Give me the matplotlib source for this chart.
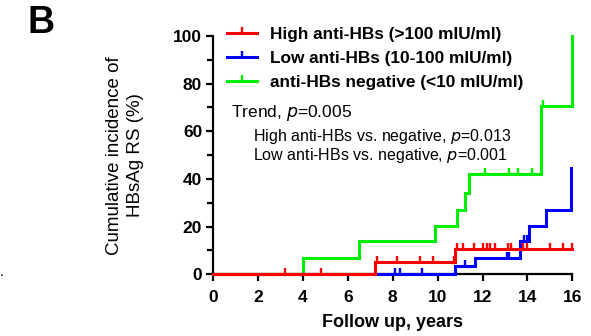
import matplotlib
matplotlib.use("Agg")
import matplotlib.pyplot as plt
from matplotlib.lines import Line2D
from matplotlib.ticker import MultipleLocator

plt.rcParams['font.family'] = ['Liberation Sans', 'DejaVu Sans']

# ---- data ----
labels = ["High anti-HBs (>100 mIU/ml)", "Low anti-HBs (10-100 mIU/ml)", "anti-HBs negative (<10 mIU/ml)"]
colors = ["#ff0000", "#0000ff", "#00ee00"]

red_t = [0, 7.2, 10.77, 16.0]
red_y = [0, 5.0, 10.5, 10.5]
red_cens_t = [3.2, 4.8, 7.3, 8.2, 9.2, 9.8, 10.74, 10.85, 11.14, 11.6, 12.0, 12.2, 12.35,
              12.55, 13.15, 13.25, 13.8, 14.0, 15.0, 15.6, 15.98]
red_cens_y = [0, 0, 5.0, 5.0, 5.0, 5.0, 5.0, 10.5, 10.5, 10.5, 10.5, 10.5, 10.5,
              10.5, 10.5, 10.5, 10.5, 10.5, 10.5, 10.5, 10.5]

blue_t = [0, 10.77, 11.66, 13.67, 14.08, 14.83, 15.95]
blue_y = [0, 3.5, 7.0, 13.8, 20.1, 27.1, 44.4]
blue_cens_t = [8.1, 8.3, 9.3, 11.2, 13.1, 13.2, 13.85, 14.0]
blue_cens_y = [0, 0, 0, 3.5, 7.0, 7.0, 13.8, 13.8]

green_t = [0, 4.0, 6.5, 9.9, 10.87, 11.2, 11.4, 14.6, 16.0]
green_y = [0, 7.0, 13.8, 20.3, 26.8, 34.3, 42.0, 70.5, 100]
green_cens_t = [12.1, 13.2, 13.6, 14.2, 14.68]
green_cens_y = [42.0, 42.0, 42.0, 42.0, 70.5]

x_ticks = [0, 2, 4, 6, 8, 10, 12, 14, 16]
y_ticks = [0, 20, 40, 60, 80, 100]

fig = plt.figure(figsize=(5.91, 3.36), dpi=100)
ax = fig.add_axes([0.3609, 0.1837, 0.6074, 0.7092])

lw = 2.2
series = [
    (green_t, green_y, green_cens_t, green_cens_y, colors[2], 2),
    (blue_t, blue_y, blue_cens_t, blue_cens_y, colors[1], 3),
    (red_t, red_y, red_cens_t, red_cens_y, colors[0], 4),
]
for t, y, ct, cy, c, z in series:
    ax.step(t, y, where='post', color=c, lw=lw, zorder=z, clip_on=False,
            solid_joinstyle='miter')
    ax.plot(ct, cy, ls='none', marker=2, ms=4.5, mew=1.7, color=c, zorder=z, clip_on=False)

ax.set_xlim(0, 16)
ax.set_ylim(0, 100)
ax.set_xticks(x_ticks)
ax.set_yticks(y_ticks)
ax.yaxis.set_minor_locator(MultipleLocator(10))
for s in ['top', 'right']:
    ax.spines[s].set_visible(False)
for s in ['left', 'bottom']:
    ax.spines[s].set_linewidth(1.6)
ax.tick_params(which='major', direction='out', length=5, width=1.6, labelsize=12.5, pad=3)
ax.tick_params(axis='x', which='major', pad=6)
ax.tick_params(which='minor', direction='out', length=4, width=1.6)
for lab in ax.get_xticklabels() + ax.get_yticklabels():
    lab.set_fontweight('bold')

ax.set_xlabel("Follow up, years", fontsize=13, fontweight='bold', labelpad=7)
ax.set_ylabel("Cumulative incidence of\nHBsAg RS (%)", fontsize=13.5, labelpad=21,
              linespacing=1.3)

handles = [Line2D([0], [0], color=c, lw=lw, marker=2, ms=4.5, mew=1.7) for c in colors]
ax.legend(handles, labels, loc='upper left', bbox_to_anchor=(0.02, 1.065), frameon=False,
          prop={'weight': 'bold', 'size': 12.4}, handlelength=1.7, handletextpad=0.75,
          labelspacing=0.52, borderaxespad=0)

ax.text(0.048, 0.677, "Trend, $\\it{p}$=0.005", transform=ax.transAxes, fontsize=12.5,
        va='center', ha='left')
ax.text(0.111, 0.577, "High anti-HBs vs. negative, $\\it{p}$=0.013", transform=ax.transAxes,
        fontsize=11.5, va='center', ha='left')
ax.text(0.111, 0.500, "Low anti-HBs vs. negative, $\\it{p}$=0.001", transform=ax.transAxes,
        fontsize=11.5, va='center', ha='left')

fig.text(28 / 591, 1 - 23 / 336, "B", fontsize=27, fontweight='bold', va='center', ha='left')
fig.text(0 / 591, 1 - 272 / 336, ".", fontsize=10, va='center', ha='left')

fig.savefig("out.png", dpi=100)
